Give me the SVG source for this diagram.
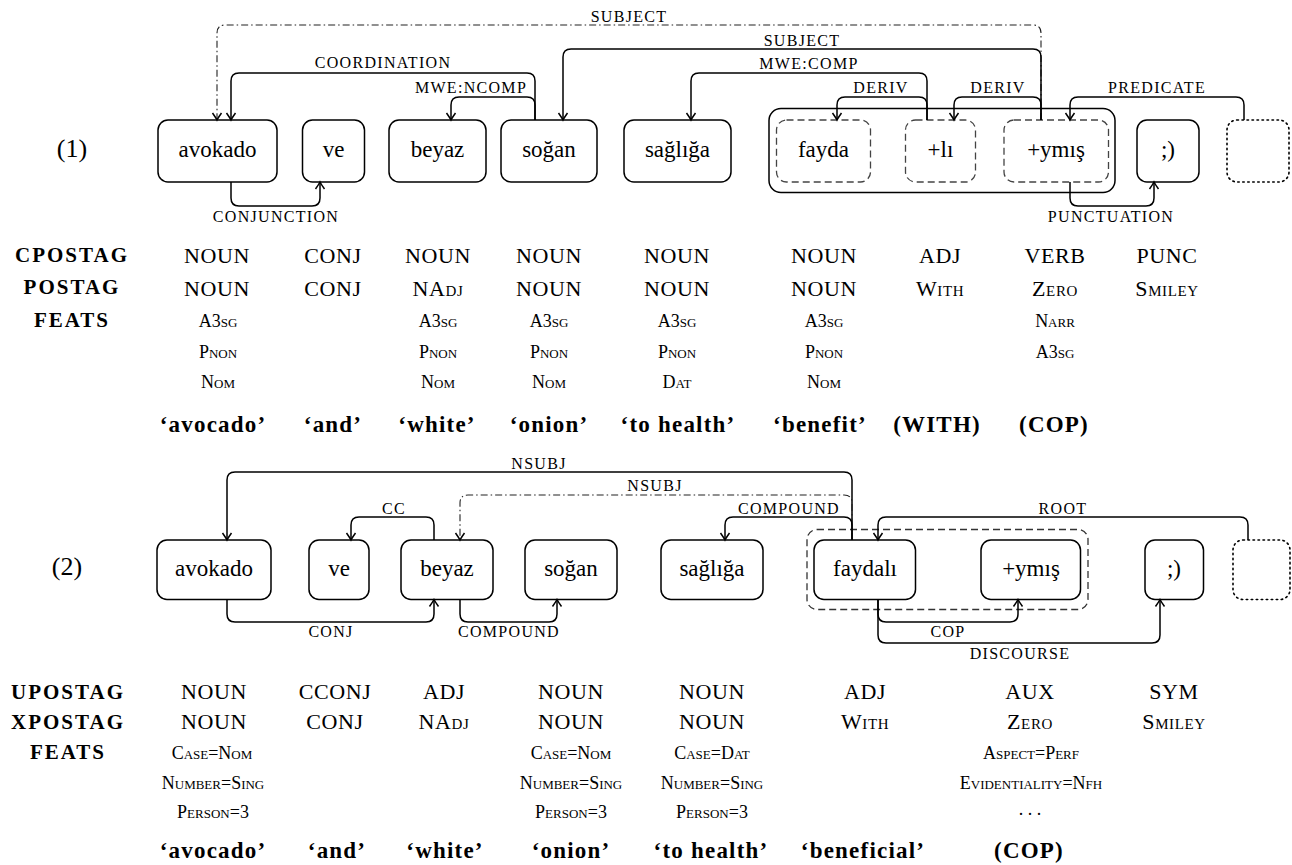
<svg xmlns="http://www.w3.org/2000/svg" width="1292" height="865" viewBox="0 0 1292 865" font-family="'Liberation Serif', 'DejaVu Serif', serif">
<defs>
<style>
text{font-family:"Liberation Serif","DejaVu Serif",serif;fill:#000}
.box{fill:#fff;stroke:#000;stroke-width:1.5}
.dbox{fill:#fff;stroke:#444;stroke-width:1.3;stroke-dasharray:7 4}
.grp{fill:none;stroke:#000;stroke-width:1.5}
.grpd{fill:none;stroke:#333;stroke-width:1.3;stroke-dasharray:7 4}
.dot{fill:#fff;stroke:#000;stroke-width:1.6;stroke-dasharray:1.5 3.5;stroke-linecap:round}
.nt{font-size:23px;text-anchor:middle}
.num{font-size:26px;text-anchor:middle}
.lbl{font-size:16px;letter-spacing:1.3px;text-anchor:middle}
.hdr{font-size:21px;font-weight:bold;letter-spacing:2px;text-anchor:middle}
.tag{font-size:22px;letter-spacing:0.6px;text-anchor:middle;font-variant:small-caps}
.ft{font-size:18px;text-anchor:middle;font-variant:small-caps}
.gl{font-size:23px;font-weight:bold;letter-spacing:1.2px;text-anchor:middle}
.e{fill:none;stroke:#000;stroke-width:1.5;marker-end:url(#ah)}
.dd{fill:none;stroke:#222;stroke-width:1.1;stroke-dasharray:7 3 1.5 3;marker-end:url(#ah)}
</style>
<marker id="ah" viewBox="-9 -6 11 12" refX="0" refY="0" markerWidth="11" markerHeight="12" markerUnits="userSpaceOnUse" orient="auto">
<path d="M-7,-4.5 Q-2.5,-1.3 0,0 Q-2.5,1.3 -7,4.5" fill="none" stroke="#000" stroke-width="1.5"/>
</marker>
</defs>
<rect width="1292" height="865" fill="#fff"/>

<!-- Section 1 -->
<text class="num" x="72" y="157">(1)</text>
<g id="s1-group"><rect class="grp" x="769" y="108.5" width="346" height="84" rx="12"/></g>
<g id="n1-avokado"><rect class="box" x="158" y="120" width="119" height="62" rx="10"/><text class="nt" x="217.5" y="157">avokado</text></g>
<g id="n1-ve"><rect class="box" x="302.5" y="120" width="62" height="62" rx="10"/><text class="nt" x="333.5" y="157">ve</text></g>
<g id="n1-beyaz"><rect class="box" x="389" y="120" width="97" height="62" rx="10"/><text class="nt" x="437.5" y="157">beyaz</text></g>
<g id="n1-sogan"><rect class="box" x="501" y="120" width="96" height="62" rx="10"/><text class="nt" x="549" y="157">soğan</text></g>
<g id="n1-sagliga"><rect class="box" x="624" y="120" width="107" height="62" rx="10"/><text class="nt" x="677.5" y="157">sağlığa</text></g>
<g id="n1-fayda"><rect class="dbox" x="776.5" y="120" width="94" height="62" rx="10"/><text class="nt" x="823.5" y="157">fayda</text></g>
<g id="n1-li"><rect class="dbox" x="905.5" y="120" width="70" height="62" rx="10"/><text class="nt" x="940.5" y="157">+lı</text></g>
<g id="n1-ymis"><rect class="dbox" x="1004" y="120" width="104.5" height="62" rx="10"/><text class="nt" x="1056" y="157">+ymış</text></g>
<g id="n1-smiley"><rect class="box" x="1137" y="120" width="62" height="62" rx="10"/><text class="nt" x="1168" y="157">;)</text></g>
<g id="n1-root"><rect class="dot" x="1227" y="120" width="62" height="62" rx="10"/></g>

<g id="s1-edges">
<path class="dd" d="M1041,120 V33 Q1041,25 1033,25 H225 Q217,25 217,33 V120"/>
<path class="e" d="M1041,120 V57 Q1041,49 1033,49 H571 Q563,49 563,57 V120"/>
<path class="e" d="M535,120 V81 Q535,73 527,73 H239 Q231,73 231,81 V120"/>
<path class="e" d="M535,120 V105 Q535,97 527,97 H459 Q451,97 451,105 V120"/>
<path class="e" d="M927,120 V81 Q927,73 919,73 H699 Q691,73 691,81 V120"/>
<path class="e" d="M927,120 V105 Q927,97 919,97 H845 Q837,97 837,105 V120"/>
<path class="e" d="M1041,120 V105 Q1041,97 1033,97 H962 Q954,97 954,105 V120"/>
<path class="e" d="M1244,120 V105 Q1244,97 1236,97 H1078 Q1070,97 1070,105 V120"/>
<path class="e" d="M231,182 V198 Q231,206 239,206 H312 Q320,206 320,198 V182"/>
<path class="e" d="M1070,182 V198 Q1070,206 1078,206 H1146 Q1154,206 1154,198 V182"/>
<text class="lbl" x="629" y="22">SUBJECT</text>
<text class="lbl" x="802" y="45.5">SUBJECT</text>
<text class="lbl" x="383" y="68">COORDINATION</text>
<text class="lbl" x="471" y="92.5">MWE:NCOMP</text>
<text class="lbl" x="809" y="68.5">MWE:COMP</text>
<text class="lbl" x="881" y="92.5">DERIV</text>
<text class="lbl" x="998" y="92.5">DERIV</text>
<text class="lbl" x="1157" y="92.5">PREDICATE</text>
<text class="lbl" x="276" y="222">CONJUNCTION</text>
<text class="lbl" x="1111" y="222">PUNCTUATION</text>
</g>

<g id="s1-table">
<text class="hdr" x="72" y="262">CPOSTAG</text>
<text class="hdr" x="72" y="294">POSTAG</text>
<text class="hdr" x="72" y="327">FEATS</text>
<text class="tag" x="217" y="263">NOUN</text>
<text class="tag" x="333" y="263">CONJ</text>
<text class="tag" x="438" y="263">NOUN</text>
<text class="tag" x="549" y="263">NOUN</text>
<text class="tag" x="677" y="263">NOUN</text>
<text class="tag" x="824" y="263">NOUN</text>
<text class="tag" x="940" y="263">ADJ</text>
<text class="tag" x="1055" y="263">VERB</text>
<text class="tag" x="1167" y="263">PUNC</text>
<text class="tag" x="217" y="295.5">NOUN</text>
<text class="tag" x="333" y="295.5">CONJ</text>
<text class="tag" x="438" y="295.5">NAdj</text>
<text class="tag" x="549" y="295.5">NOUN</text>
<text class="tag" x="677" y="295.5">NOUN</text>
<text class="tag" x="824" y="295.5">NOUN</text>
<text class="tag" x="940" y="295.5">With</text>
<text class="tag" x="1055" y="295.5">Zero</text>
<text class="tag" x="1167" y="295.5">Smiley</text>
<text class="ft" x="218" y="326.5">A3sg</text>
<text class="ft" x="218" y="357.5">Pnon</text>
<text class="ft" x="218" y="387.5">Nom</text>
<text class="ft" x="438" y="326.5">A3sg</text>
<text class="ft" x="438" y="357.5">Pnon</text>
<text class="ft" x="438" y="387.5">Nom</text>
<text class="ft" x="549" y="326.5">A3sg</text>
<text class="ft" x="549" y="357.5">Pnon</text>
<text class="ft" x="549" y="387.5">Nom</text>
<text class="ft" x="677" y="326.5">A3sg</text>
<text class="ft" x="677" y="357.5">Pnon</text>
<text class="ft" x="677" y="387.5">Dat</text>
<text class="ft" x="824" y="326.5">A3sg</text>
<text class="ft" x="824" y="357.5">Pnon</text>
<text class="ft" x="824" y="387.5">Nom</text>
<text class="ft" x="1055" y="326.5">Narr</text>
<text class="ft" x="1055" y="357.5">A3sg</text>
<text class="gl" x="213" y="432">‘avocado’</text>
<text class="gl" x="333" y="432">‘and’</text>
<text class="gl" x="437" y="432">‘white’</text>
<text class="gl" x="549" y="432">‘onion’</text>
<text class="gl" x="678" y="432">‘to health’</text>
<text class="gl" x="820" y="432">‘benefit’</text>
<text class="gl" x="937" y="432">(WITH)</text>
<text class="gl" x="1054" y="432">(COP)</text>
</g>

<!-- Section 2 -->
<text class="num" x="67" y="575">(2)</text>
<g id="s2-group"><rect class="grpd" x="807" y="529.5" width="281" height="80" rx="10"/></g>
<g id="n2-avokado"><rect class="box" x="157" y="540" width="114" height="59.5" rx="10"/><text class="nt" x="214" y="576">avokado</text></g>
<g id="n2-ve"><rect class="box" x="309" y="540" width="60" height="59.5" rx="10"/><text class="nt" x="339" y="576">ve</text></g>
<g id="n2-beyaz"><rect class="box" x="401" y="540" width="92" height="59.5" rx="10"/><text class="nt" x="447" y="576">beyaz</text></g>
<g id="n2-sogan"><rect class="box" x="525" y="540" width="92" height="59.5" rx="10"/><text class="nt" x="571" y="576">soğan</text></g>
<g id="n2-sagliga"><rect class="box" x="661" y="540" width="102" height="59.5" rx="10"/><text class="nt" x="712" y="576">sağlığa</text></g>
<g id="n2-faydali"><rect class="box" x="814" y="540" width="101.5" height="59.5" rx="10"/><text class="nt" x="865" y="576">faydalı</text></g>
<g id="n2-ymis"><rect class="box" x="981" y="540" width="99.5" height="59.5" rx="10"/><text class="nt" x="1031" y="576">+ymış</text></g>
<g id="n2-smiley"><rect class="box" x="1145" y="540" width="58.5" height="59.5" rx="10"/><text class="nt" x="1174" y="576">;)</text></g>
<g id="n2-root"><rect class="dot" x="1233" y="540" width="57" height="59.5" rx="10"/></g>

<g id="s2-edges">
<path class="e" d="M852,540 V480 Q852,472 844,472 H235 Q227,472 227,480 V540"/>
<path class="dd" d="M852,540 V503 Q852,495 844,495 H468 Q460,495 460,503 V540"/>
<path class="e" d="M852,540 V525 Q852,517 844,517 H733 Q725,517 725,525 V540"/>
<path class="e" d="M434,540 V525 Q434,517 426,517 H359 Q351,517 351,525 V540"/>
<path class="e" d="M1248,540 V525 Q1248,517 1240,517 H886 Q878,517 878,525 V540"/>
<path class="e" d="M227,599.5 V614 Q227,622 235,622 H426 Q434,622 434,614 V599.5"/>
<path class="e" d="M460,599.5 V614 Q460,622 468,622 H549 Q557,622 557,614 V599.5"/>
<path class="e" d="M878,599.5 V614 Q878,622 886,622 H1010 Q1018,622 1018,614 V599.5"/>
<path class="e" d="M878,599.5 V635 Q878,643 886,643 H1152 Q1160,643 1160,635 V599.5"/>
<text class="lbl" x="539" y="468.5">NSUBJ</text>
<text class="lbl" x="655" y="491">NSUBJ</text>
<text class="lbl" x="394" y="513.5">CC</text>
<text class="lbl" x="789" y="513.5">COMPOUND</text>
<text class="lbl" x="1063" y="513.5">ROOT</text>
<text class="lbl" x="331" y="637">CONJ</text>
<text class="lbl" x="509" y="637">COMPOUND</text>
<text class="lbl" x="948" y="637">COP</text>
<text class="lbl" x="1020" y="659">DISCOURSE</text>
</g>

<g id="s2-table">
<text class="hdr" x="68" y="699">UPOSTAG</text>
<text class="hdr" x="68" y="729">XPOSTAG</text>
<text class="hdr" x="68" y="759">FEATS</text>
<text class="tag" x="214" y="698.5">NOUN</text>
<text class="tag" x="335" y="698.5">CCONJ</text>
<text class="tag" x="444" y="698.5">ADJ</text>
<text class="tag" x="571" y="698.5">NOUN</text>
<text class="tag" x="712" y="698.5">NOUN</text>
<text class="tag" x="865" y="698.5">ADJ</text>
<text class="tag" x="1030" y="698.5">AUX</text>
<text class="tag" x="1174" y="698.5">SYM</text>
<text class="tag" x="214" y="729">NOUN</text>
<text class="tag" x="335" y="729">CONJ</text>
<text class="tag" x="444" y="729">NAdj</text>
<text class="tag" x="571" y="729">NOUN</text>
<text class="tag" x="712" y="729">NOUN</text>
<text class="tag" x="865" y="729">With</text>
<text class="tag" x="1030" y="729">Zero</text>
<text class="tag" x="1174" y="729">Smiley</text>
<text class="ft" x="212" y="759">Case=Nom</text>
<text class="ft" x="213" y="789">Number=Sing</text>
<text class="ft" x="213" y="817.5">Person=3</text>
<text class="ft" x="571" y="759">Case=Nom</text>
<text class="ft" x="571" y="789">Number=Sing</text>
<text class="ft" x="571" y="817.5">Person=3</text>
<text class="ft" x="712" y="759">Case=Dat</text>
<text class="ft" x="712" y="789">Number=Sing</text>
<text class="ft" x="712" y="817.5">Person=3</text>
<text class="ft" x="1031" y="759">Aspect=Perf</text>
<text class="ft" x="1031" y="789">Evidentiality=Nfh</text>
<text class="ft" x="1030" y="815">. . .</text>
<text class="gl" x="213" y="858">‘avocado’</text>
<text class="gl" x="337" y="858">‘and’</text>
<text class="gl" x="445" y="858">‘white’</text>
<text class="gl" x="571" y="858">‘onion’</text>
<text class="gl" x="711" y="858">‘to health’</text>
<text class="gl" x="863" y="858">‘beneficial’</text>
<text class="gl" x="1029" y="858">(COP)</text>
</g>
</svg>
